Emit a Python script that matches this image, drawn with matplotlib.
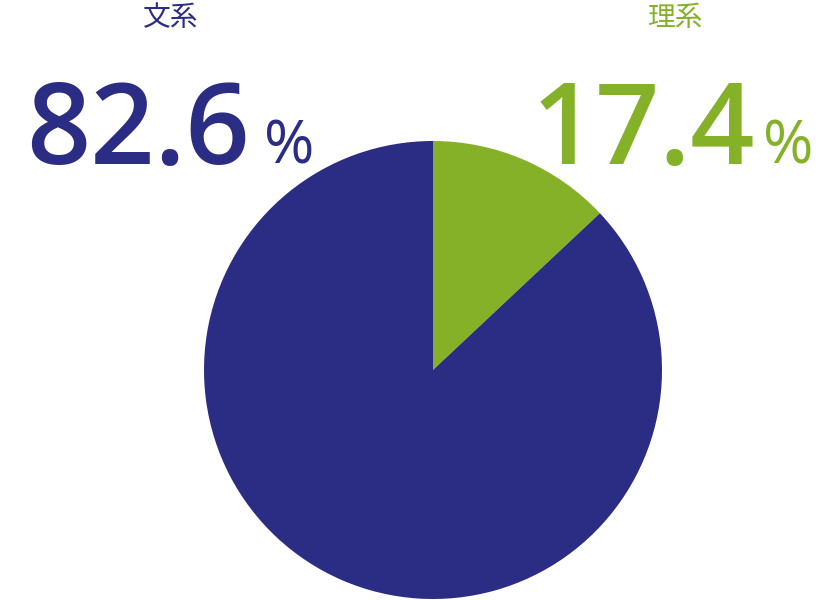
import matplotlib
matplotlib.use("Agg")
import matplotlib.pyplot as plt

categories = ["文系", "理系"]
label_values = ["82.6", "17.4"]
# wedge shares as drawn in the reference picture
wedge_shares = [87.0, 13.0]
colors = ["#2b2c84", "#84b127"]

W, H = 840, 600
fig = plt.figure(figsize=(W / 100, H / 100), dpi=100)

cx, cy, r = 433, 370, 229
ax = fig.add_axes([(cx - r) / W, (H - cy - r) / H, 2 * r / W, 2 * r / H])
ax.pie(wedge_shares[::-1], colors=colors[::-1], startangle=90, counterclock=False,
       radius=1, wedgeprops=dict(linewidth=0))
ax.set_xlim(-1, 1)
ax.set_ylim(-1, 1)
ax.set_aspect("equal")
ax.axis("off")

num_font = ["Open Sans", "DejaVu Sans"]
cjk_font = ["Noto Sans CJK JP", "DejaVu Sans"]

# (category x-center, number left x, percent left x) in px
layout = [(171, 26, 264), (675, 532, 763)]
for (catx, numx, pctx), cat, val, col in zip(layout, categories, label_values, colors):
    fig.text(catx / W, 1 - 26 / H, cat, color=col, fontsize=20, family=cjk_font,
             ha="center", va="baseline")
    fig.text(numx / W, 1 - 164 / H, val, color=col, fontsize=81, family=num_font,
             weight="semibold", ha="left", va="baseline")
    fig.text(pctx / W, 1 - 164 / H, "%", color=col, fontsize=44, family=num_font,
             weight="normal", ha="left", va="baseline")

fig.savefig("out.png", dpi=100)
